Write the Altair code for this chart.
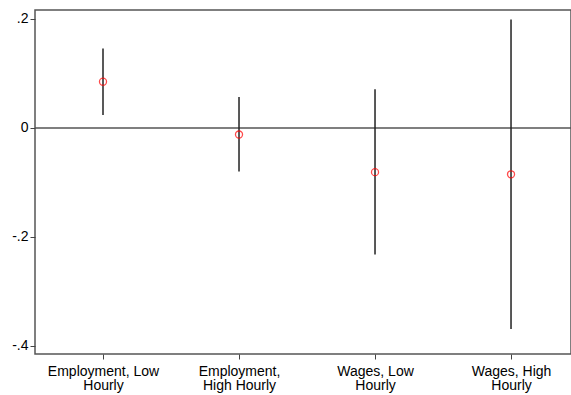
import altair as alt
import pandas as pd

# Outcome groups, point estimates and 95% confidence bounds
groups = ["Employment, Low Hourly", "Employment, High Hourly", "Wages, Low Hourly", "Wages, High Hourly"]
label_lines = [["Employment, Low", "Hourly"], ["Employment,", "High Hourly"], ["Wages, Low", "Hourly"], ["Wages, High", "Hourly"]]
positions = [1, 2, 3, 4]
estimates = [0.085, -0.012, -0.081, -0.085]
ci_low = [0.024, -0.080, -0.232, -0.369]
ci_high = [0.146, 0.057, 0.071, 0.199]
y_ticks = [-0.4, -0.2, 0, 0.2]
y_tick_labels = ["-.4", "-.2", "0", ".2"]

df = pd.DataFrame({"group": groups, "pos": positions, "est": estimates, "lo": ci_low, "hi": ci_high})

label_expr = " : ".join(
    f"datum.value == {p} ? {lines!r}" for p, lines in zip(positions, label_lines)
) + " : ''"
y_label_expr = " : ".join(
    f"abs(datum.value - ({v})) < 1e-9 ? '{t}'" for v, t in zip(y_ticks, y_tick_labels)
) + " : ''"

font = "Liberation Sans"

x = alt.X(
    "pos:Q",
    scale=alt.Scale(domain=[0.5, 4.441], nice=False, zero=False),
    axis=alt.Axis(
        values=positions, labelExpr=label_expr, title=None, grid=False, domain=False,
        tickSize=5, tickColor="#444", labelFont=font, labelFontSize=14, labelColor="#000",
        labelLineHeight=14, labelPadding=5,
    ),
)
y_scale = alt.Scale(domain=[-0.4147, 0.2165], nice=False, zero=False)
y_axis = alt.Axis(
    values=y_ticks, labelExpr=y_label_expr, title=None, grid=False, domain=False,
    tickSize=5, tickColor="#444", labelFont=font, labelFontSize=14, labelColor="#000",
    labelPadding=2,
)

base = alt.Chart(df)

zero_line = alt.Chart(pd.DataFrame({"z": [0]})).mark_rule(color="#555", strokeWidth=1.5).encode(
    y=alt.Y("z:Q", scale=y_scale, axis=y_axis)
)

bars = base.mark_rule(color="#222", strokeWidth=1.5).encode(
    x=x,
    y=alt.Y("lo:Q", scale=y_scale, axis=y_axis),
    y2="hi:Q",
)

points = base.mark_point(shape="circle", filled=False, color="#ff0000", size=50, strokeWidth=1.3).encode(
    x=x,
    y=alt.Y("est:Q", scale=y_scale, axis=y_axis),
)

chart = (
    alt.layer(zero_line, bars, points)
    .properties(
        width=536,
        height=344,
        padding={"left": 35, "top": 10, "right": 0, "bottom": 41},
        autosize=alt.AutoSizeParams(type="none"),
        background="white",
    )
    .configure_view(stroke="#555", strokeWidth=1.5)
)

chart.save("out.html", embed_options={"renderer": "svg", "actions": False})
